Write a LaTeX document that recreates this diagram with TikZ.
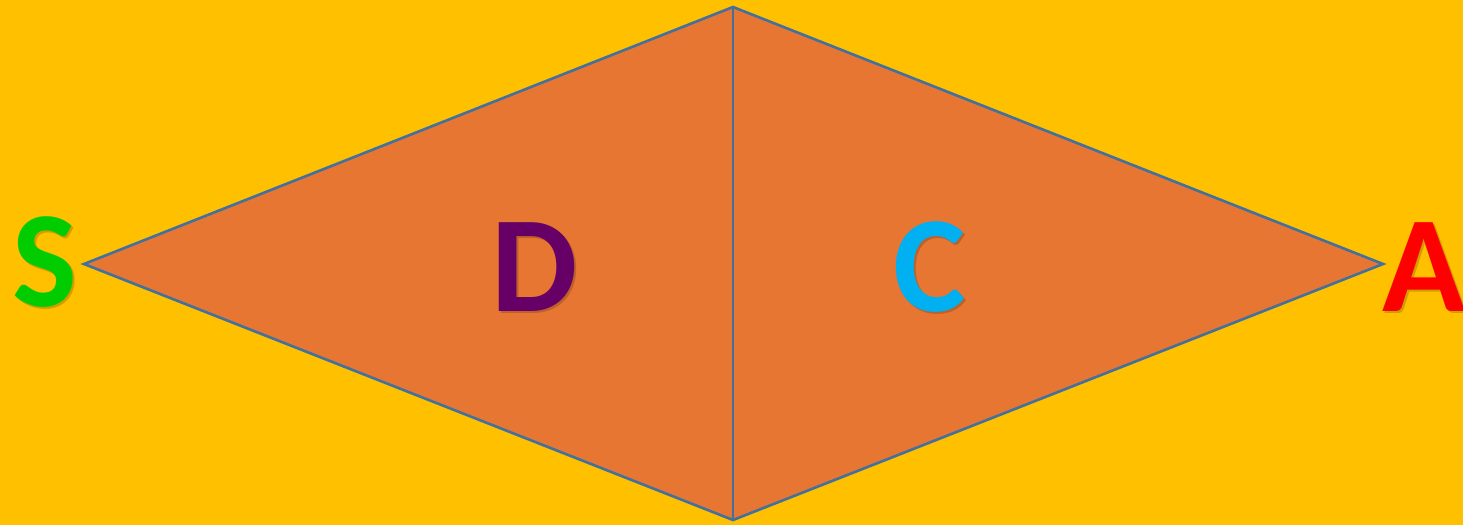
\documentclass[tikz,border=0pt]{standalone}
\usepackage{fontspec}
\setmainfont{Carlito}
\definecolor{bg}{HTML}{FFC000}
\definecolor{rfill}{HTML}{E87633}
\definecolor{rline}{HTML}{41719C}
\definecolor{cS}{HTML}{00CC00}
\definecolor{cD}{HTML}{660066}
\definecolor{cC}{HTML}{00B0F0}
\definecolor{cA}{HTML}{FF0000}
\begin{document}
\begin{tikzpicture}[x=1pt,y=-1pt,
  edge/.style={draw=rline,line width=2.6pt,line join=miter},
  letter/.style={anchor=base,inner sep=0pt,font=\fontsize{137}{137}\selectfont\bfseries},
  shadowtxt/.style={letter,text=black,opacity=0.18}]
\fill[bg] (0,0) rectangle (1463,525);
\useasboundingbox (0,0) rectangle (1463,525);
\coordinate (T) at (733,7);
\coordinate (B) at (733,520);
\coordinate (L) at (84,264);
\coordinate (R) at (1383,264);
\fill[rfill] (L) -- (T) -- (R) -- (B) -- cycle;
\draw[edge] (L) -- (T) -- (R) -- (B) -- cycle;
\draw[edge] (T) -- (B);
% soft shadows
\node[shadowtxt] at (47,308) {S};
\node[shadowtxt] at (537,313) {D};
\node[shadowtxt] at (932,313) {C};
\node[shadowtxt] at (1426,313) {A};
% letters
\node[letter,text=cS] (s) at (45,306) {S};
\node[letter,text=cD] (d) at (535,311) {D};
\node[letter,text=cC] (c) at (930,311) {C};
\node[letter,text=cA] (a) at (1424,311) {A};
\end{tikzpicture}
\end{document}
